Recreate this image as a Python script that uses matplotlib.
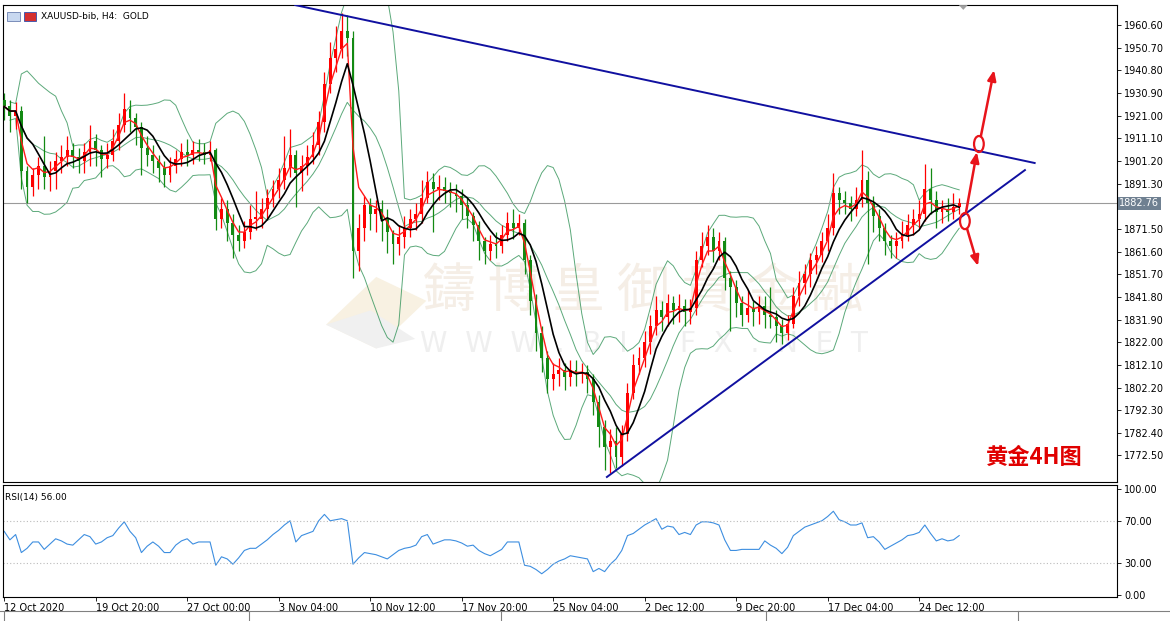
import numpy as np
import pandas as pd
import matplotlib
matplotlib.use("Agg")
import matplotlib.pyplot as plt
from matplotlib.patches import Ellipse, Rectangle, Polygon
from matplotlib.lines import Line2D
import matplotlib.transforms as mtransforms

plt.rcParams["font.family"] = ["DejaVu Sans", "Noto Sans CJK SC"]

# XAUUSD (one candle here ~ two H4 candles of the original)
first_open = 1928
closes = [
    1925, 1921, 1923, 1897, 1890, 1895, 1899, 1894, 1897, 1901,
    1903, 1906, 1903, 1901, 1905, 1910, 1906, 1902, 1904, 1910,
    1917, 1924, 1920, 1916, 1907, 1904, 1901, 1898, 1895, 1899,
    1902, 1905, 1904, 1906, 1905, 1904, 1906, 1876, 1880, 1874,
    1869, 1866, 1870, 1876, 1876, 1880, 1885, 1889, 1893, 1898,
    1904, 1896, 1899, 1903, 1908, 1918, 1935, 1946, 1950, 1958,
    1955, 1862, 1872, 1882, 1878, 1880, 1876, 1870, 1865, 1868,
    1872, 1876, 1878, 1885, 1892, 1889, 1890, 1888, 1887, 1886,
    1882, 1877, 1873, 1866, 1862, 1865, 1864, 1869, 1874, 1872,
    1874, 1858, 1840, 1826, 1815, 1806, 1808, 1810, 1807, 1810,
    1808, 1809, 1806, 1796, 1785, 1776, 1779, 1772, 1782, 1800,
    1812, 1815, 1822, 1829, 1836, 1833, 1839, 1836, 1838, 1835,
    1837, 1858, 1864, 1868, 1862, 1866, 1850, 1846, 1839, 1834,
    1837, 1835, 1838, 1834, 1833, 1829, 1826, 1830, 1842, 1848,
    1852, 1858, 1860, 1866, 1872, 1887, 1884, 1883, 1880, 1884,
    1893, 1883, 1877, 1872, 1866, 1864, 1866, 1869, 1873, 1876,
    1878, 1889, 1884, 1879, 1880, 1879, 1881, 1882.76,
]
highs = [
    1931, 1928, 1927, 1925, 1899, 1898, 1903, 1912, 1901, 1905,
    1908, 1912, 1909, 1907, 1909, 1917, 1913, 1908, 1909, 1915,
    1922, 1931, 1928, 1922, 1918, 1912, 1908, 1904, 1901, 1903,
    1906, 1909, 1911, 1910, 1911, 1909, 1910, 1907, 1885, 1884,
    1878, 1873, 1875, 1882, 1888, 1885, 1889, 1893, 1898, 1912,
    1915, 1906, 1904, 1908, 1914, 1923, 1940, 1953, 1960, 1966,
    1965, 1958, 1878, 1886, 1885, 1884, 1884, 1880, 1871, 1873,
    1877, 1880, 1883, 1893, 1897, 1896, 1895, 1894, 1892, 1891,
    1889, 1885, 1879, 1875, 1868, 1869, 1870, 1873, 1879, 1880,
    1878, 1876, 1860, 1843, 1829, 1818, 1813, 1815, 1813, 1814,
    1814, 1813, 1812, 1808, 1799, 1788, 1784, 1785, 1786, 1804,
    1817, 1820, 1827, 1834, 1842, 1840, 1843, 1842, 1843, 1841,
    1841, 1862, 1870, 1873, 1872, 1870, 1868, 1853, 1849, 1842,
    1845, 1840, 1842, 1842, 1846, 1836, 1832, 1834, 1846, 1853,
    1856, 1861, 1864, 1870, 1878, 1896, 1890, 1888, 1886, 1890,
    1906, 1897, 1886, 1880, 1874, 1869, 1870, 1875, 1878, 1880,
    1884, 1900, 1898, 1888, 1884, 1885, 1887, 1885,
]
lows = [
    1919, 1914, 1915, 1889, 1883, 1886, 1889, 1889, 1888, 1889,
    1896, 1899, 1898, 1896, 1896, 1899, 1899, 1894, 1898, 1901,
    1906, 1914, 1914, 1908, 1895, 1899, 1896, 1892, 1890, 1892,
    1896, 1899, 1899, 1900, 1901, 1900, 1901, 1871, 1872, 1866,
    1859, 1862, 1863, 1867, 1871, 1872, 1876, 1881, 1885, 1889,
    1894, 1881, 1888, 1895, 1900, 1904, 1914, 1931, 1940, 1946,
    1947, 1850, 1853, 1866, 1871, 1870, 1866, 1861, 1856, 1860,
    1863, 1868, 1871, 1874, 1883, 1870, 1884, 1883, 1881, 1879,
    1876, 1872, 1866, 1858, 1856, 1858, 1859, 1861, 1866, 1867,
    1869, 1852, 1834, 1818, 1809, 1800, 1801, 1803, 1801, 1803,
    1803, 1804, 1800, 1790, 1776, 1766, 1765, 1767, 1768, 1779,
    1797, 1808, 1811, 1817, 1825, 1827, 1829, 1830, 1831, 1829,
    1830, 1834, 1855, 1860, 1857, 1858, 1845, 1827, 1833, 1829,
    1831, 1829, 1830, 1828, 1828, 1822, 1821, 1823, 1828, 1838,
    1843, 1846, 1852, 1857, 1862, 1869, 1878, 1878, 1875, 1877,
    1881, 1856, 1870, 1866, 1860, 1859, 1859, 1863, 1866, 1869,
    1872, 1875, 1878, 1872, 1874, 1875, 1876, 1878,
]
# RSI(14) as drawn in the lower panel
rsi_values = [
    60, 52, 57, 40, 44, 50, 50, 43, 48, 53,
    51, 48, 47, 52, 57, 55, 48, 50, 54, 56,
    63, 69, 60, 54, 40, 46, 50, 46, 40, 40,
    47, 51, 53, 48, 50, 50, 50, 28, 36, 34,
    29, 35, 42, 44, 44, 48, 52, 57, 61, 66,
    70, 50, 56, 58, 60, 70, 76, 70, 71, 72,
    70, 29, 35, 40, 39, 38, 36, 34, 38, 42,
    44, 45, 47, 55, 57, 48, 50, 52, 52, 51,
    49, 46, 47, 42, 39, 37, 40, 43, 50, 50,
    50, 28, 27, 24, 20, 24, 29, 32, 34, 37,
    36, 35, 34, 22, 25, 22, 29, 34, 42, 56,
    58, 62, 66, 69, 72, 62, 65, 64, 57, 59,
    57, 66, 69, 69, 68, 66, 52, 42, 42, 43,
    43, 43, 43, 51, 47, 44, 39, 45, 56, 60,
    64, 66, 68, 70, 74, 79, 71, 69, 66, 66,
    68, 54, 55, 50, 43, 46, 49, 52, 56, 57,
    59, 66, 58, 51, 53, 51, 52, 56,
]
time_labels = ["12 Oct 2020", "19 Oct 20:00", "27 Oct 00:00", "3 Nov 04:00",
               "10 Nov 12:00", "17 Nov 20:00", "25 Nov 04:00", "2 Dec 12:00",
               "9 Dec 20:00", "17 Dec 04:00", "24 Dec 12:00"]
time_label_bars = [0, 16, 32, 48, 64, 80, 96, 112, 128, 144, 160]
price_ticks = [1960.60, 1950.70, 1940.80, 1930.90, 1921.00, 1911.10, 1901.20,
               1891.30, 1881.40, 1871.50, 1861.60, 1851.70, 1841.80, 1831.90,
               1822.00, 1812.10, 1802.20, 1792.30, 1782.40, 1772.50]
last_price = 1882.76

# hand drawn trend lines (bar index, price)
upper_line_x, upper_line_y = [50.9, 180.2], [1969.3, 1900.3]
lower_line_x, lower_line_y = [105.4, 178.5], [1763.1, 1897.2]

close = pd.Series(closes, dtype=float)
opens = pd.Series([first_open] + closes[:-1], dtype=float)
n = len(close)
idx = np.arange(n)

# indicators
ma_fast = close.ewm(span=3, adjust=False).mean()
ma_slow = close.rolling(6, min_periods=1).mean()
bb_mid = close.rolling(10, min_periods=2).mean()
bb_std = close.rolling(10, min_periods=2).std(ddof=0)
bb_up = bb_mid + 2 * bb_std
bb_dn = bb_mid - 2 * bb_std

fig = plt.figure(figsize=(11.7, 6.21), dpi=100)
ax = fig.add_axes([0.0026, 0.2238, 0.9521, 0.768])
ax2 = fig.add_axes([0.0026, 0.0387, 0.9521, 0.1804], sharex=ax)

# watermark
ax.text(0.575, 0.40, "鑄 博 皇 御 貴 金 融", transform=ax.transAxes, fontsize=38,
        color="#f5eee6", ha="center", va="center", family=["Noto Sans CJK TC"], zorder=0)
ax.text(0.575, 0.29, "W  W  W  .  B  I  Y  F  X  .  N  E  T", transform=ax.transAxes,
        fontsize=20, color="#efefef", ha="center", va="center", zorder=0)
ax.add_patch(Polygon([[0.29, 0.33], [0.335, 0.43], [0.38, 0.38], [0.335, 0.28]],
                     closed=True, transform=ax.transAxes, color="#f8f1e2", zorder=0, lw=0))
ax.add_patch(Polygon([[0.29, 0.33], [0.335, 0.28], [0.37, 0.30], [0.33, 0.36]],
                     closed=True, transform=ax.transAxes, color="#f0f0f0", zorder=0, lw=0))

# bollinger bands
for band in (bb_up, bb_mid, bb_dn):
    ax.plot(idx, band, color="#3f9a63", lw=0.7, alpha=0.85, zorder=1)

# candles
up = close >= opens
cols = np.where(up, "#ff0000", "#138a13")
ax.vlines(idx, lows, highs, colors=cols, lw=0.9, zorder=2)
body_lo = np.minimum(opens, close)
body_h = np.maximum(np.abs(close - opens), 0.6)
ax.bar(idx, body_h, bottom=body_lo, width=0.5, color=cols, lw=0, zorder=3)

ax.plot(idx, ma_fast, color="#ff1a1a", lw=1.0, zorder=4)
ax.plot(idx, ma_slow, color="black", lw=1.2, zorder=4)

# last price line
ax.axhline(last_price, color="#9a9a9a", lw=0.8, zorder=1)

# trend lines
ax.plot(upper_line_x, upper_line_y, color="#1010a0", lw=1.4, zorder=5)
ax.plot(lower_line_x, lower_line_y, color="#1010a0", lw=1.4, zorder=5)

# scenario arrows
red = "#e8141b"
for (x0, y0, x1, y1) in [(168.2, 1878.9, 170.1, 1905.1),
                         (170.8, 1912.1, 173.1, 1940.9),
                         (168.4, 1871.4, 170.3, 1855.3)]:
    ax.annotate("", xy=(x1, y1), xytext=(x0, y0), zorder=6,
                arrowprops=dict(arrowstyle="-|>,head_width=0.25,head_length=0.6",
                                color=red, lw=1.8, shrinkA=0, shrinkB=0))
ax.add_patch(Ellipse((170.45, 1908.6), 1.7, 7, fill=False, ec=red, lw=1.6, zorder=6))
ax.add_patch(Ellipse((168.0, 1874.9), 1.7, 7, fill=False, ec=red, lw=1.6, zorder=6))

ax.text(0.926, 0.052, "黄金4H图", transform=ax.transAxes, fontsize=16, color="#e00000",
        fontweight="bold", ha="center", va="center", family=["Noto Sans CJK SC"], zorder=7)

# header
ax.add_patch(Rectangle((0.004, 0.966), 0.011, 0.02, transform=ax.transAxes,
                       fc="#c8d8f0", ec="#6a7fb0", lw=0.6, zorder=7))
ax.add_patch(Rectangle((0.019, 0.966), 0.011, 0.02, transform=ax.transAxes,
                       fc="#d43030", ec="#3050b0", lw=0.6, zorder=7))
ax.text(0.034, 0.976, "XAUUSD-bib, H4:  GOLD", transform=ax.transAxes, fontsize=6.5,
        va="center", ha="left", zorder=7)
# chart shift marker
ax.add_patch(Polygon([[0.858, 1.0], [0.866, 1.0], [0.862, 0.99]], closed=True,
                     transform=ax.transAxes, color="#a0a0a0", lw=0, zorder=7))

ax.set_xlim(-0.2, 194.6)
ax.set_ylim(1760.9, 1969.3)
ax.yaxis.tick_right()
ax.set_yticks(price_ticks)
# the 1881.40 label sits under the current-price box
ax.set_yticklabels(["" if abs(p - 1881.40) < 0.01 else f"{p:.2f}" for p in price_ticks])
ax.tick_params(axis="y", direction="out", length=3, labelsize=7, pad=2, width=0.6)
ax.tick_params(axis="x", bottom=False, labelbottom=False)
for s in ax.spines.values():
    s.set_linewidth(0.8)

trans = mtransforms.blended_transform_factory(ax.transAxes, ax.transData)
ax.text(1.002, last_price, "1882.76", transform=trans, fontsize=7, color="white",
        va="center", ha="left", clip_on=False, zorder=8,
        bbox=dict(boxstyle="square,pad=0.15", fc="#6f8091", ec="none"))

# RSI panel
ax2.plot(idx, rsi_values, color="#3d8ee0", lw=0.8)
for lvl in (70, 30):
    ax2.axhline(lvl, color="#bbbbbb", lw=0.8, ls=(0, (1, 2)))
ax2.set_ylim(-1.9, 103.8)
ax2.yaxis.tick_right()
ax2.set_yticks([100, 70, 30, 0])
ax2.set_yticklabels(["100.00", "70.00", "30.00", "0.00"])
ax2.tick_params(axis="y", direction="out", length=3, labelsize=7, pad=2, width=0.6)
ax2.set_xticks(time_label_bars)
ax2.set_xticklabels(time_labels)
ax2.tick_params(axis="x", direction="out", length=3, labelsize=7, pad=1, width=0.6)
for lbl in ax2.get_xticklabels():
    lbl.set_ha("left")
for s in ax2.spines.values():
    s.set_linewidth(0.8)
ax2.text(0.002, 0.93, "RSI(14) 56.00", transform=ax2.transAxes, fontsize=6.5,
         va="top", ha="left")

# tab strip at the bottom
fig.add_artist(Line2D([0, 1], [0.016, 0.016], color="#808080", lw=0.8))
for xf in [0.003, 0.213, 0.428, 0.655, 0.87]:
    fig.add_artist(Line2D([xf, xf], [0, 0.016], color="#808080", lw=0.8))

fig.savefig("out.png", dpi=100, facecolor="white")
